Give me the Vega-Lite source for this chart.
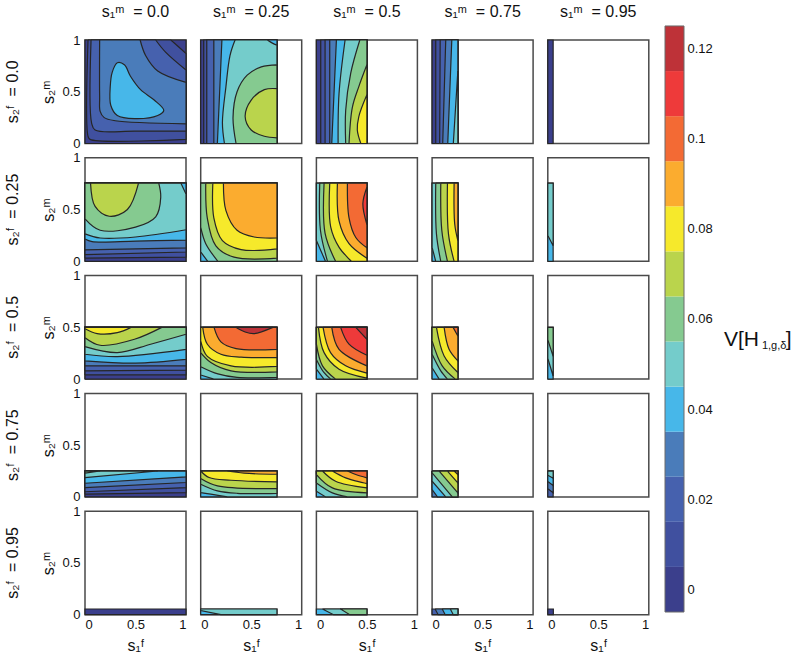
{"$schema":"https://vega.github.io/schema/vega-lite/v6.json","background":"white","padding":{"left":5,"top":4,"right":0,"bottom":0},"autosize":{"type":"pad"},"config":{"font":"Liberation Sans","axis":{"grid":false,"labelColor":"#111","titleColor":"#111","labelFontSize":13,"titleFontSize":16,"titleFontWeight":"normal"},"view":{"stroke":"#4a4a4a","strokeWidth":1.5}},"spacing":14,"hconcat":[{"data":{"values":[
{"sf":"0.0","sm":"0.0","level":0,"x":[0,0,1,1,1,1,0,0],"y":[0,0,0,0,1,1,1,1]},
{"sf":"0.0","sm":"0.0","level":1,"x":[0.03,0.03,0.85,0.85,0.92,1,1,1,1,0.05,0.03],"y":[1,1,1,1,0.94,0.87,0.87,0.04,0.04,0.04,0.07]},
{"sf":"0.0","sm":"0.0","level":2,"x":[0.06,0.06,0.7,0.7,0.8,1,1,1,1,0.5,0.1,0.065],"y":[1,1,1,1,0.88,0.71,0.71,0.12,0.12,0.12,0.13,0.2]},
{"sf":"0.0","sm":"0.0","level":3,"x":[0.145,0.145,0.546,0.546,0.6,0.72,1,1,1,1,0.3,0.19,0.15,0.145],"y":[1,1,1,1,0.85,0.7,0.59,0.59,0.19,0.19,0.22,0.25,0.31,0.45]},
{"sf":"0.0","sm":"0.0","level":4,"x":[0.32,0.27,0.25,0.255,0.32,0.49,0.72,0.78,0.685,0.55,0.45,0.39],"y":[0.78,0.69,0.55,0.37,0.27,0.24,0.27,0.32,0.42,0.52,0.65,0.76]},
{"sf":"0.0","sm":"0.25","level":0,"x":[0,0,0.755,0.755,0.755,0.755,0,0],"y":[0,0,0,0,1,1,1,1]},
{"sf":"0.0","sm":"0.25","level":1,"x":[0.03,0.03,0.755,0.755,0.755,0.755,0.03,0.03],"y":[0,0,0,0,1,1,1,1]},
{"sf":"0.0","sm":"0.25","level":2,"x":[0.06,0.06,0.755,0.755,0.755,0.755,0.06,0.06],"y":[0,0,0,0,1,1,1,1]},
{"sf":"0.0","sm":"0.25","level":3,"x":[0.13,0.13,0.755,0.755,0.755,0.755,0.13,0.13],"y":[0,0,0,0,1,1,1,1]},
{"sf":"0.0","sm":"0.25","level":4,"x":[0.165,0.165,0.755,0.755,0.755,0.755,0.21,0.21,0.19],"y":[0,0,0,0,1,1,1,1,0.55]},
{"sf":"0.0","sm":"0.25","level":5,"x":[0.34,0.34,0.66,0.66,0.71,0.755,0.755,0.755,0.755,0.235,0.235,0.215,0.25,0.29],"y":[1,1,1,1,0.97,0.95,0.95,0,0,0,0,0.2,0.55,0.85]},
{"sf":"0.0","sm":"0.25","level":6,"x":[0.755,0.755,0.6,0.46,0.36,0.32,0.35,0.35,0.755,0.755],"y":[0.76,0.76,0.74,0.66,0.5,0.25,0,0,0,0]},
{"sf":"0.0","sm":"0.25","level":7,"x":[0.755,0.755,0.63,0.5,0.44,0.5,0.63,0.755,0.755],"y":[0.53,0.53,0.52,0.42,0.26,0.13,0.07,0.055,0.055]},
{"sf":"0.0","sm":"0.5","level":0,"x":[0,0,0.5,0.5,0.5,0.5,0,0],"y":[0,0,0,0,1,1,1,1]},
{"sf":"0.0","sm":"0.5","level":1,"x":[0.043,0.043,0.5,0.5,0.5,0.5,0.043,0.043],"y":[0,0,0,0,1,1,1,1]},
{"sf":"0.0","sm":"0.5","level":2,"x":[0.086,0.086,0.5,0.5,0.5,0.5,0.086,0.086],"y":[0,0,0,0,1,1,1,1]},
{"sf":"0.0","sm":"0.5","level":3,"x":[0.132,0.132,0.5,0.5,0.5,0.5,0.132,0.132],"y":[0,0,0,0,1,1,1,1]},
{"sf":"0.0","sm":"0.5","level":4,"x":[0.152,0.152,0.5,0.5,0.5,0.5,0.198,0.198],"y":[0,0,0,0,1,1,1,1]},
{"sf":"0.0","sm":"0.5","level":5,"x":[0.215,0.215,0.5,0.5,0.5,0.5,0.284,0.284,0.224],"y":[0,0,0,0,1,1,1,1,0.48]},
{"sf":"0.0","sm":"0.5","level":6,"x":[0.29,0.29,0.5,0.5,0.5,0.5,0.43,0.43,0.34,0.29],"y":[0,0,0,0,1,1,1,1,0.68,0.32]},
{"sf":"0.0","sm":"0.5","level":7,"x":[0.323,0.323,0.5,0.5,0.5,0.5,0.42,0.356],"y":[0,0,0,0,0.76,0.76,0.55,0.35]},
{"sf":"0.0","sm":"0.5","level":8,"x":[0.44,0.44,0.5,0.5,0.5,0.5,0.42,0.405],"y":[0,0,0,0,0.47,0.47,0.26,0.13]},
{"sf":"0.0","sm":"0.75","level":0,"x":[0,0,0.255,0.255,0.255,0.255,0,0],"y":[0,0,0,0,1,1,1,1]},
{"sf":"0.0","sm":"0.75","level":1,"x":[0.036,0.036,0.255,0.255,0.255,0.255,0.036,0.036],"y":[0,0,0,0,1,1,1,1]},
{"sf":"0.0","sm":"0.75","level":2,"x":[0.075,0.075,0.255,0.255,0.255,0.255,0.08,0.08],"y":[0,0,0,0,1,1,1,1]},
{"sf":"0.0","sm":"0.75","level":3,"x":[0.105,0.105,0.255,0.255,0.255,0.255,0.135,0.135],"y":[0,0,0,0,1,1,1,1]},
{"sf":"0.0","sm":"0.75","level":4,"x":[0.155,0.155,0.255,0.255,0.255,0.255,0.195,0.195],"y":[0,0,0,0,1,1,1,1]},
{"sf":"0.0","sm":"0.75","level":5,"x":[0.21,0.21,0.255,0.255,0.255,0.255],"y":[0,0,0,0,0.7,0.7]},
{"sf":"0.0","sm":"0.95","level":0,"x":[0,0,0.053,0.053,0.053,0.053,0,0],"y":[0,0,0,0,1,1,1,1]},

{"sf":"0.25","sm":"0.0","level":0,"x":[0,0,1,1,1,1,0,0],"y":[0,0,0,0,0.755,0.755,0.755,0.755]},
{"sf":"0.25","sm":"0.0","level":1,"x":[0,0,1,1,1,1,0,0],"y":[0.03,0.03,0.04,0.04,0.755,0.755,0.755,0.755]},
{"sf":"0.25","sm":"0.0","level":2,"x":[0,0,1,1,1,1,0,0],"y":[0.065,0.065,0.09,0.09,0.755,0.755,0.755,0.755]},
{"sf":"0.25","sm":"0.0","level":3,"x":[0,0,1,1,1,1,0,0],"y":[0.11,0.11,0.13,0.13,0.755,0.755,0.755,0.755]},
{"sf":"0.25","sm":"0.0","level":4,"x":[0,0,0.07,0.5,1,1,1,1,0,0],"y":[0.215,0.215,0.19,0.195,0.205,0.205,0.755,0.755,0.755,0.755]},
{"sf":"0.25","sm":"0.0","level":5,"x":[0,0,0.15,0.5,1,1,1,1,0.95,0.95,0,0],"y":[0.265,0.265,0.225,0.235,0.305,0.305,0.65,0.65,0.755,0.755,0.755,0.755]},
{"sf":"0.25","sm":"0.0","level":6,"x":[0,0,0.15,0.5,0.7,0.75,0.73,0.73,0,0],"y":[0.41,0.41,0.3,0.33,0.43,0.62,0.755,0.755,0.755,0.755]},
{"sf":"0.25","sm":"0.0","level":7,"x":[0.055,0.055,0.1,0.24,0.42,0.53,0.53],"y":[0.755,0.755,0.53,0.435,0.5,0.755,0.755]},
{"sf":"0.25","sm":"0.25","level":4,"x":[0,0,0.755,0.755,0.755,0.755,0,0],"y":[0,0,0,0,0.755,0.755,0.755,0.755]},
{"sf":"0.25","sm":"0.25","level":5,"x":[0,0,0.07,0.07,0.755,0.755,0.755,0.755,0,0],"y":[0.09,0.09,0,0,0,0,0.755,0.755,0.755,0.755]},
{"sf":"0.25","sm":"0.25","level":6,"x":[0,0,0.05,0.17,0.17,0.755,0.755,0.755,0.755,0,0],"y":[0.33,0.33,0.17,0,0,0,0,0.755,0.755,0.755,0.755]},
{"sf":"0.25","sm":"0.25","level":7,"x":[0.05,0.05,0.065,0.15,0.33,0.755,0.755,0.755,0.755],"y":[0.755,0.755,0.42,0.15,0.04,0.03,0.03,0.755,0.755]},
{"sf":"0.25","sm":"0.25","level":8,"x":[0.12,0.12,0.13,0.215,0.4,0.755,0.755,0.755,0.755],"y":[0.755,0.755,0.42,0.2,0.113,0.12,0.12,0.755,0.755]},
{"sf":"0.25","sm":"0.25","level":9,"x":[0.225,0.225,0.25,0.36,0.53,0.755,0.755,0.755,0.755],"y":[0.755,0.755,0.49,0.3,0.235,0.225,0.225,0.755,0.755]},
{"sf":"0.25","sm":"0.5","level":4,"x":[0,0,0.5,0.5,0.5,0.5,0,0],"y":[0,0,0,0,0.755,0.755,0.755,0.755]},
{"sf":"0.25","sm":"0.5","level":5,"x":[0,0,0.09,0.09,0.5,0.5,0.5,0.5,0,0],"y":[0.2,0.2,0,0,0,0,0.755,0.755,0.755,0.755]},
{"sf":"0.25","sm":"0.5","level":6,"x":[0.033,0.033,0.04,0.11,0.11,0.5,0.5,0.5,0.5],"y":[0.755,0.755,0.3,0,0,0,0,0.755,0.755]},
{"sf":"0.25","sm":"0.5","level":7,"x":[0.076,0.076,0.086,0.19,0.19,0.5,0.5,0.5,0.5],"y":[0.755,0.755,0.27,0,0,0,0,0.755,0.755]},
{"sf":"0.25","sm":"0.5","level":8,"x":[0.132,0.132,0.142,0.225,0.347,0.347,0.5,0.5,0.5,0.5],"y":[0.755,0.755,0.33,0.135,0,0,0,0,0.755,0.755]},
{"sf":"0.25","sm":"0.5","level":9,"x":[0.208,0.208,0.224,0.323,0.5,0.5,0.5,0.5],"y":[0.755,0.755,0.39,0.17,0.03,0.03,0.755,0.755]},
{"sf":"0.25","sm":"0.5","level":10,"x":[0.307,0.307,0.323,0.39,0.5,0.5,0.5,0.5],"y":[0.755,0.755,0.42,0.23,0.13,0.13,0.755,0.755]},
{"sf":"0.25","sm":"0.5","level":11,"x":[0.5,0.5,0.46,0.5,0.5],"y":[0.715,0.715,0.555,0.355,0.355]},
{"sf":"0.25","sm":"0.75","level":4,"x":[0,0,0.255,0.255,0.255,0.255,0,0],"y":[0,0,0,0,0.755,0.755,0.755,0.755]},
{"sf":"0.25","sm":"0.75","level":5,"x":[0,0,0.036,0.036,0.255,0.255,0.255,0.255,0,0],"y":[0.135,0.135,0,0,0,0,0.755,0.755,0.755,0.755]},
{"sf":"0.25","sm":"0.75","level":6,"x":[0.036,0.036,0.043,0.086,0.086,0.255,0.255,0.255,0.255],"y":[0.755,0.755,0.265,0,0,0,0,0.755,0.755]},
{"sf":"0.25","sm":"0.75","level":7,"x":[0.086,0.086,0.096,0.152,0.152,0.255,0.255,0.255,0.255],"y":[0.755,0.755,0.3,0,0,0,0,0.755,0.755]},
{"sf":"0.25","sm":"0.75","level":8,"x":[0.152,0.152,0.162,0.218,0.218,0.255,0.255,0.255,0.255],"y":[0.755,0.755,0.265,0,0,0,0,0.755,0.755]},
{"sf":"0.25","sm":"0.75","level":9,"x":[0.218,0.218,0.224,0.255,0.255,0.255,0.255],"y":[0.755,0.755,0.36,0.2,0.2,0.755,0.755]},
{"sf":"0.25","sm":"0.95","level":4,"x":[0,0,0.053,0.053,0.053,0.053,0,0],"y":[0,0,0,0,0.755,0.755,0.755,0.755]},
{"sf":"0.25","sm":"0.95","level":5,"x":[0,0,0.053,0.053,0.053,0.053,0,0],"y":[0.755,0.755,0.755,0.755,0.15,0.15,0.25,0.25]},

{"sf":"0.5","sm":"0.0","level":0,"x":[0,0,1,1,1,1,0,0],"y":[0,0,0,0,0.5,0.5,0.5,0.5]},
{"sf":"0.5","sm":"0.0","level":1,"x":[0,0,1,1,1,1,0,0],"y":[0.04,0.04,0.04,0.04,0.5,0.5,0.5,0.5]},
{"sf":"0.5","sm":"0.0","level":2,"x":[0,0,1,1,1,1,0,0],"y":[0.08,0.08,0.087,0.087,0.5,0.5,0.5,0.5]},
{"sf":"0.5","sm":"0.0","level":3,"x":[0,0,1,1,1,1,0,0],"y":[0.128,0.128,0.128,0.128,0.5,0.5,0.5,0.5]},
{"sf":"0.5","sm":"0.0","level":4,"x":[0,0,0.5,1,1,1,1,0,0],"y":[0.176,0.176,0.154,0.19,0.19,0.5,0.5,0.5,0.5]},
{"sf":"0.5","sm":"0.0","level":5,"x":[0,0,0.32,1,1,1,1,0,0],"y":[0.24,0.24,0.218,0.288,0.288,0.5,0.5,0.5,0.5]},
{"sf":"0.5","sm":"0.0","level":6,"x":[0,0,0.32,0.65,1,1,1,1,0,0],"y":[0.314,0.314,0.256,0.337,0.433,0.433,0.5,0.5,0.5,0.5]},
{"sf":"0.5","sm":"0.0","level":7,"x":[0,0,0.15,0.49,0.76,0.76,0,0],"y":[0.4,0.4,0.327,0.385,0.5,0.5,0.5,0.5]},
{"sf":"0.5","sm":"0.0","level":8,"x":[0,0,0.12,0.32,0.455,0.455,0,0],"y":[0.487,0.487,0.44,0.449,0.5,0.5,0.5,0.5]},
{"sf":"0.5","sm":"0.25","level":4,"x":[0,0,0.755,0.755,0.755,0.755,0,0],"y":[0,0,0,0,0.5,0.5,0.5,0.5]},
{"sf":"0.5","sm":"0.25","level":5,"x":[0,0,0.13,0.13,0.755,0.755,0.755,0.755,0,0],"y":[0.04,0.04,0,0,0,0,0.5,0.5,0.5,0.5]},
{"sf":"0.5","sm":"0.25","level":6,"x":[0,0,0.17,0.36,0.755,0.755,0.755,0.755,0,0],"y":[0.12,0.12,0.05,0.016,0.016,0.016,0.5,0.5,0.5,0.5]},
{"sf":"0.5","sm":"0.25","level":7,"x":[0,0,0.1,0.3,0.755,0.755,0.755,0.755,0,0],"y":[0.256,0.256,0.16,0.08,0.07,0.07,0.5,0.5,0.5,0.5]},
{"sf":"0.5","sm":"0.25","level":8,"x":[0,0,0.066,0.3,0.755,0.755,0.755,0.755,0,0],"y":[0.37,0.37,0.22,0.128,0.122,0.122,0.5,0.5,0.5,0.5]},
{"sf":"0.5","sm":"0.25","level":9,"x":[0.02,0.02,0.066,0.2,0.4,0.755,0.755,0.755,0.755],"y":[0.5,0.5,0.337,0.24,0.212,0.208,0.208,0.5,0.5]},
{"sf":"0.5","sm":"0.25","level":10,"x":[0.132,0.132,0.2,0.35,0.755,0.755,0.755,0.755],"y":[0.5,0.5,0.36,0.295,0.288,0.288,0.5,0.5]},
{"sf":"0.5","sm":"0.25","level":12,"x":[0.348,0.348,0.44,0.53,0.715,0.715],"y":[0.5,0.5,0.455,0.44,0.5,0.5]},
{"sf":"0.5","sm":"0.5","level":4,"x":[0,0,0.5,0.5,0.5,0.5,0,0],"y":[0,0,0,0,0.5,0.5,0.5,0.5]},
{"sf":"0.5","sm":"0.5","level":5,"x":[0,0,0.075,0.075,0.5,0.5,0.5,0.5,0,0],"y":[0.096,0.096,0,0,0,0,0.5,0.5,0.5,0.5]},
{"sf":"0.5","sm":"0.5","level":6,"x":[0,0,0.07,0.142,0.142,0.5,0.5,0.5,0.5,0,0],"y":[0.19,0.19,0.07,0,0,0,0,0.5,0.5,0.5,0.5]},
{"sf":"0.5","sm":"0.5","level":7,"x":[0,0,0.06,0.19,0.19,0.5,0.5,0.5,0.5,0,0],"y":[0.337,0.337,0.128,0,0,0,0,0.5,0.5,0.5,0.5]},
{"sf":"0.5","sm":"0.5","level":8,"x":[0.02,0.02,0.5,0.5,0.5,0.5,0.224,0.076],"y":[0.5,0.5,0.5,0.5,0.01,0.01,0.096,0.256]},
{"sf":"0.5","sm":"0.5","level":9,"x":[0.066,0.066,0.14,0.29,0.5,0.5,0.5,0.5],"y":[0.5,0.5,0.256,0.128,0.058,0.058,0.5,0.5]},
{"sf":"0.5","sm":"0.5","level":10,"x":[0.152,0.152,0.224,0.5,0.5,0.5,0.5],"y":[0.5,0.5,0.288,0.128,0.128,0.5,0.5]},
{"sf":"0.5","sm":"0.5","level":11,"x":[0.24,0.24,0.323,0.5,0.5,0.5,0.5],"y":[0.5,0.5,0.337,0.23,0.23,0.5,0.5]},
{"sf":"0.5","sm":"0.5","level":12,"x":[0.39,0.39,0.5,0.5,0.5,0.5],"y":[0.5,0.5,0.385,0.385,0.5,0.5]},
{"sf":"0.5","sm":"0.75","level":4,"x":[0,0,0.255,0.255,0.255,0.255,0,0],"y":[0,0,0,0,0.5,0.5,0.5,0.5]},
{"sf":"0.5","sm":"0.75","level":5,"x":[0,0,0.07,0.07,0.255,0.255,0.255,0.255,0,0],"y":[0.11,0.11,0,0,0,0,0.5,0.5,0.5,0.5]},
{"sf":"0.5","sm":"0.75","level":6,"x":[0,0,0.086,0.152,0.152,0.255,0.255,0.255,0.255,0,0],"y":[0.24,0.24,0.08,0,0,0,0,0.5,0.5,0.5,0.5]},
{"sf":"0.5","sm":"0.75","level":7,"x":[0,0,0.1,0.23,0.23,0.255,0.255,0.255,0.255,0,0],"y":[0.37,0.37,0.128,0,0,0,0,0.5,0.5,0.5,0.5]},
{"sf":"0.5","sm":"0.75","level":8,"x":[0.043,0.043,0.119,0.255,0.255,0.255,0.255],"y":[0.5,0.5,0.224,0.064,0.064,0.5,0.5]},
{"sf":"0.5","sm":"0.75","level":9,"x":[0.119,0.119,0.168,0.255,0.255,0.255,0.255],"y":[0.5,0.5,0.288,0.176,0.176,0.5,0.5]},
{"sf":"0.5","sm":"0.75","level":10,"x":[0.208,0.208,0.255,0.255,0.255,0.255],"y":[0.5,0.5,0.417,0.417,0.5,0.5]},
{"sf":"0.5","sm":"0.95","level":4,"x":[0,0,0.053,0.053,0.053,0.053,0,0],"y":[0,0,0,0,0.5,0.5,0.5,0.5]},
{"sf":"0.5","sm":"0.95","level":5,"x":[0,0,0.053,0.053,0.053,0.053,0,0],"y":[0.5,0.5,0.5,0.5,0.03,0.03,0.2,0.2]},
{"sf":"0.5","sm":"0.95","level":6,"x":[0,0,0.053,0.053,0.053,0.053,0,0],"y":[0.5,0.5,0.5,0.5,0.22,0.22,0.38,0.38]},

{"sf":"0.75","sm":"0.0","level":0,"x":[0,0,1,1,1,1,0,0],"y":[0,0,0,0,0.25,0.25,0.25,0.25]},
{"sf":"0.75","sm":"0.0","level":1,"x":[0,0,1,1,1,1,0,0],"y":[0.026,0.026,0.042,0.042,0.25,0.25,0.25,0.25]},
{"sf":"0.75","sm":"0.0","level":2,"x":[0,0,1,1,1,1,0,0],"y":[0.05,0.05,0.09,0.09,0.25,0.25,0.25,0.25]},
{"sf":"0.75","sm":"0.0","level":3,"x":[0,0,1,1,1,1,0,0],"y":[0.09,0.09,0.139,0.139,0.25,0.25,0.25,0.25]},
{"sf":"0.75","sm":"0.0","level":4,"x":[0,0,1,1,1,1,0,0],"y":[0.132,0.132,0.194,0.194,0.25,0.25,0.25,0.25]},
{"sf":"0.75","sm":"0.0","level":5,"x":[0,0,0.72,0.72,0,0],"y":[0.187,0.187,0.25,0.25,0.25,0.25]},
{"sf":"0.75","sm":"0.0","level":6,"x":[0,0,0.15,0.15,0,0],"y":[0.229,0.229,0.25,0.25,0.25,0.25]},
{"sf":"0.75","sm":"0.25","level":4,"x":[0,0,0.755,0.755,0.755,0.755,0,0],"y":[0,0,0,0,0.25,0.25,0.25,0.25]},
{"sf":"0.75","sm":"0.25","level":5,"x":[0,0,0.1,0.265,0.265,0.755,0.755,0.755,0.755,0,0],"y":[0.042,0.042,0.026,0,0,0,0,0.25,0.25,0.25,0.25]},
{"sf":"0.75","sm":"0.25","level":6,"x":[0,0,0.166,0.36,0.755,0.755,0.755,0.755,0,0],"y":[0.123,0.123,0.058,0.035,0.035,0.035,0.25,0.25,0.25,0.25]},
{"sf":"0.75","sm":"0.25","level":7,"x":[0,0,0.166,0.755,0.755,0.755,0.755,0,0],"y":[0.177,0.177,0.106,0.08,0.08,0.25,0.25,0.25,0.25]},
{"sf":"0.75","sm":"0.25","level":8,"x":[0,0,0.755,0.755,0.755,0.755,0.3,0.083],"y":[0.25,0.25,0.25,0.25,0.145,0.145,0.161,0.187]},
{"sf":"0.75","sm":"0.25","level":9,"x":[0.265,0.265,0.755,0.755,0.755,0.755,0.43],"y":[0.25,0.25,0.25,0.25,0.219,0.219,0.229]},
{"sf":"0.75","sm":"0.5","level":4,"x":[0,0,0.5,0.5,0.5,0.5,0,0],"y":[0,0,0,0,0.25,0.25,0.25,0.25]},
{"sf":"0.75","sm":"0.5","level":5,"x":[0,0,0.092,0.092,0.5,0.5,0.5,0.5,0,0],"y":[0.055,0.055,0,0,0,0,0.25,0.25,0.25,0.25]},
{"sf":"0.75","sm":"0.5","level":6,"x":[0,0,0.158,0.307,0.307,0.5,0.5,0.5,0.5,0,0],"y":[0.135,0.135,0.039,0,0,0,0,0.25,0.25,0.25,0.25]},
{"sf":"0.75","sm":"0.5","level":7,"x":[0,0,0.158,0.5,0.5,0.5,0.5,0,0],"y":[0.216,0.216,0.087,0.039,0.039,0.25,0.25,0.25,0.25]},
{"sf":"0.75","sm":"0.5","level":8,"x":[0.06,0.06,0.19,0.5,0.5,0.5,0.5],"y":[0.25,0.25,0.151,0.087,0.087,0.25,0.25]},
{"sf":"0.75","sm":"0.5","level":9,"x":[0.158,0.158,0.29,0.5,0.5,0.5,0.5],"y":[0.25,0.25,0.184,0.129,0.129,0.25,0.25]},
{"sf":"0.75","sm":"0.5","level":10,"x":[0.307,0.307,0.39,0.5,0.5,0.5,0.5],"y":[0.25,0.25,0.216,0.184,0.184,0.25,0.25]},
{"sf":"0.75","sm":"0.75","level":3,"x":[0,0,0.255,0.255,0.255,0.255,0,0],"y":[0,0,0,0,0.25,0.25,0.25,0.25]},
{"sf":"0.75","sm":"0.75","level":4,"x":[0,0,0.255,0.255,0.255,0.255,0.053,0.053,0,0],"y":[0.25,0.25,0.25,0.25,0,0,0,0,0.071,0.071]},
{"sf":"0.75","sm":"0.75","level":5,"x":[0,0,0.255,0.255,0.255,0.255,0.135,0.135,0,0],"y":[0.25,0.25,0.25,0.25,0,0,0,0,0.152,0.152]},
{"sf":"0.75","sm":"0.75","level":6,"x":[0,0,0.255,0.255,0.255,0.255,0.2,0.2,0,0],"y":[0.25,0.25,0.25,0.25,0,0,0,0,0.232,0.232]},
{"sf":"0.75","sm":"0.75","level":7,"x":[0.07,0.07,0.255,0.255,0.255,0.255],"y":[0.25,0.25,0.25,0.25,0.039,0.039]},
{"sf":"0.75","sm":"0.75","level":8,"x":[0.152,0.152,0.255,0.255,0.255,0.255],"y":[0.25,0.25,0.25,0.25,0.135,0.135]},
{"sf":"0.75","sm":"0.75","level":9,"x":[0.218,0.218,0.255,0.255,0.255,0.255],"y":[0.25,0.25,0.25,0.25,0.216,0.216]},
{"sf":"0.75","sm":"0.95","level":2,"x":[0,0,0.053,0.053,0.053,0.053,0,0],"y":[0,0,0,0,0.25,0.25,0.25,0.25]},
{"sf":"0.75","sm":"0.95","level":3,"x":[0,0,0.053,0.053,0.053,0.053,0,0],"y":[0.25,0.25,0.25,0.25,0.04,0.04,0.08,0.08]},
{"sf":"0.75","sm":"0.95","level":4,"x":[0,0,0.053,0.053,0.053,0.053,0,0],"y":[0.25,0.25,0.25,0.25,0.11,0.11,0.15,0.15]},
{"sf":"0.75","sm":"0.95","level":5,"x":[0,0,0.053,0.053,0.053,0.053,0,0],"y":[0.25,0.25,0.25,0.25,0.18,0.18,0.21,0.21]},

{"sf":"0.95","sm":"0.0","level":0,"x":[0,0,1,1,1,1,0,0],"y":[0,0,0,0,0.055,0.055,0.055,0.055]},
{"sf":"0.95","sm":"0.25","level":4,"x":[0,0,0.755,0.755,0.755,0.755,0,0],"y":[0,0,0,0,0.055,0.055,0.055,0.055]},
{"sf":"0.95","sm":"0.25","level":5,"x":[0,0,0.755,0.755,0.755,0.755,0.2,0.2,0,0],"y":[0.055,0.055,0.055,0.055,0,0,0,0,0.04,0.04]},
{"sf":"0.95","sm":"0.5","level":4,"x":[0,0,0.5,0.5,0.5,0.5,0,0],"y":[0,0,0,0,0.055,0.055,0.055,0.055]},
{"sf":"0.95","sm":"0.5","level":5,"x":[0.06,0.06,0.5,0.5,0.5,0.5,0.17,0.17],"y":[0.055,0.055,0.055,0.055,0,0,0,0]},
{"sf":"0.95","sm":"0.5","level":6,"x":[0.24,0.24,0.5,0.5,0.5,0.5,0.33,0.33],"y":[0.055,0.055,0.055,0.055,0,0,0,0]},
{"sf":"0.95","sm":"0.75","level":2,"x":[0,0,0.255,0.255,0.255,0.255,0,0],"y":[0,0,0,0,0.055,0.055,0.055,0.055]},
{"sf":"0.95","sm":"0.75","level":3,"x":[0.03,0.03,0.255,0.255,0.255,0.255,0.06,0.06],"y":[0.055,0.055,0.055,0.055,0,0,0,0]},
{"sf":"0.95","sm":"0.75","level":4,"x":[0.1,0.1,0.255,0.255,0.255,0.255,0.13,0.13],"y":[0.055,0.055,0.055,0.055,0,0,0,0]},
{"sf":"0.95","sm":"0.75","level":5,"x":[0.18,0.18,0.255,0.255,0.255,0.255,0.21,0.21],"y":[0.055,0.055,0.055,0.055,0,0,0,0]},
{"sf":"0.95","sm":"0.95","level":0,"x":[0,0,0.055,0.055,0.055,0.055,0,0],"y":[0,0,0,0,0.055,0.055,0.055,0.055]}
]},"transform":[{"flatten":["x","y"]}],"bounds":"flush","spacing":{"row":13.8,"column":14.7},"facet":{"row":{"field":"sf","type":"nominal","sort":["0.0","0.25","0.5","0.75","0.95"],"header":{"title":null,"labelExpr":"'s₂ᶠ\u00a0\u00a0= ' + datum.value","labelFontSize":16,"labelFont":"Liberation Sans","labelColor":"#111","labelOrient":"left","labelAngle":-90,"labelAlign":"center","labelPadding":11.5}},"column":{"field":"sm","type":"nominal","sort":["0.0","0.25","0.5","0.75","0.95"],"header":{"title":null,"labelExpr":"'s₁ᵐ\u00a0\u00a0= ' + datum.value","labelFontSize":16,"labelFont":"Liberation Sans","labelColor":"#111","labelOrient":"top","labelPadding":20}}},"spec":{"width":101,"height":103.5,"mark":{"type":"line","interpolate":"catmull-rom-closed","stroke":"#262626","strokeWidth":1.2},"encoding":{"x":{"field":"x","type":"quantitative","scale":{"domain":[0,1],"nice":false},"axis":{"values":[0,0.5,1],"format":"~g","tickSize":0,"domain":false,"labelPadding":3,"title":"s₁ᶠ","titlePadding":6}},"y":{"field":"y","type":"quantitative","scale":{"domain":[0,1],"nice":false},"axis":{"values":[0,0.5,1],"format":"~g","tickSize":0,"domain":false,"labelPadding":5,"title":"s₂ᵐ","titlePadding":5}},"order":{"value":null},"fill":{"field":"level","type":"ordinal","scale":{"domain":[0,1,2,3,4,5,6,7,8,9,10,11,12],"range":["#3B3F8C","#40509F","#4661AE","#4A7CBA","#47B7E9","#74CCCB","#85CA90","#BAD44C","#F6E92B","#FBAC2F","#F36A34","#EE3A3A","#BE3238"]},"legend":null}}}},
{"width":19,"height":572,"view":{"stroke":null},"layer":[
{"data":{"values":[{"level":0,"low":-0.005,"high":0.005},{"level":1,"low":0.005,"high":0.015},{"level":2,"low":0.015,"high":0.025},{"level":3,"low":0.025,"high":0.035},{"level":4,"low":0.035,"high":0.045},{"level":5,"low":0.045,"high":0.055},{"level":6,"low":0.055,"high":0.065},{"level":7,"low":0.065,"high":0.075},{"level":8,"low":0.075,"high":0.085},{"level":9,"low":0.085,"high":0.095},{"level":10,"low":0.095,"high":0.105},{"level":11,"low":0.105,"high":0.115},{"level":12,"low":0.115,"high":0.125}]},"mark":{"type":"rect"},"encoding":{"x":{"datum":0,"type":"quantitative","scale":{"domain":[0,1],"nice":false},"axis":null},"x2":{"datum":1},"y":{"field":"low","type":"quantitative","scale":{"domain":[-0.005,0.12189],"nice":false},"axis":{"orient":"right","values":[0,0.02,0.04,0.06,0.08,0.1,0.12],"format":"~g","domain":false,"ticks":false,"labelPadding":3,"labelFontSize":13,"title":null}},"y2":{"field":"high"},"fill":{"field":"level","type":"ordinal","scale":{"domain":[0,1,2,3,4,5,6,7,8,9,10,11,12],"range":["#3B3F8C","#40509F","#4661AE","#4A7CBA","#47B7E9","#74CCCB","#85CA90","#BAD44C","#F6E92B","#FBAC2F","#F36A34","#EE3A3A","#BE3238"]},"legend":null}}},
{"data":{"values":[{"low":-0.005,"high":0.125}]},"mark":{"type":"rect","filled":false,"stroke":"#6a6a6a","strokeWidth":1},"encoding":{"x":{"datum":0,"type":"quantitative"},"x2":{"datum":1},"y":{"field":"low","type":"quantitative"},"y2":{"field":"high"}}},
{"data":{"values":[{"label":"V[H","px":3.1,"py":0.054}]},"mark":{"type":"text","fontSize":21,"align":"left","baseline":"alphabetic","color":"#111"},"encoding":{"x":{"field":"px","type":"quantitative"},"y":{"field":"py","type":"quantitative"},"text":{"field":"label"}}},
{"data":{"values":[{"label":"1,g,δ","px":5.1,"py":0.0533}]},"mark":{"type":"text","fontSize":11,"align":"left","baseline":"alphabetic","color":"#111"},"encoding":{"x":{"field":"px","type":"quantitative"},"y":{"field":"py","type":"quantitative"},"text":{"field":"label"}}},
{"data":{"values":[{"label":"]","px":6.35,"py":0.054}]},"mark":{"type":"text","fontSize":21,"align":"left","baseline":"alphabetic","color":"#111"},"encoding":{"x":{"field":"px","type":"quantitative"},"y":{"field":"py","type":"quantitative"},"text":{"field":"label"}}}
]}]}
